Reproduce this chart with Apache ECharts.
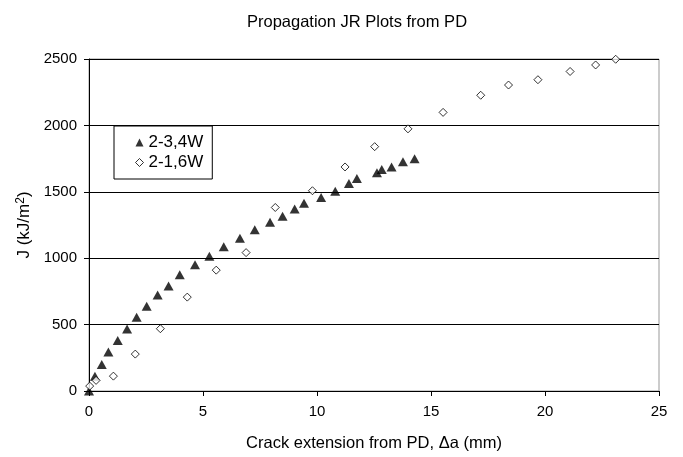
<!DOCTYPE html>
<html>
<head>
<meta charset="utf-8">
<script src="https://cdn.jsdelivr.net/npm/echarts@6/dist/echarts.min.js"></script>
<style>html,body{margin:0;padding:0;background:#fff;}#c{width:683px;height:457px;}</style>
</head>
<body>
<div id="c"></div>
<script>
const titleText = "Propagation JR Plots from PD";
const xAxisName = "Crack extension from PD, \u0394a (mm)";
const yAxisName = "{n|J (kJ/m}{s|2}{n|)}";
const seriesNames = ["2-3,4W", "2-1,6W"];

const triX = [0, 0.26, 0.56, 0.85, 1.26, 1.67, 2.09, 2.53, 3.01, 3.49, 3.98, 4.65, 5.28, 5.91, 6.62, 7.27, 7.94, 8.49, 9.02, 9.43, 10.18, 10.80, 11.40, 11.75, 12.63, 12.84, 13.27, 13.77, 14.28];
const triY = [0, 112, 199, 293, 380, 466, 556, 638, 722, 791, 876, 950, 1014, 1086, 1151, 1215, 1270, 1315, 1371, 1414, 1458, 1505, 1562, 1600, 1644, 1667, 1687, 1726, 1749];

const diaX = [0.03, 0.31, 1.07, 2.03, 3.13, 4.31, 5.58, 6.89, 8.17, 9.80, 11.23, 12.53, 13.99, 15.53, 17.18, 18.40, 19.69, 21.10, 22.22, 23.10];
const diaY = [37, 80, 112, 278, 469, 707, 910, 1042, 1382, 1508, 1687, 1840, 1974, 2098, 2227, 2304, 2344, 2406, 2455, 2498];

const FONT = "'Liberation Sans', Arial, sans-serif";
const chart = echarts.init(document.getElementById('c'), null, {renderer: 'canvas'});
chart.setOption({
  animation: false,
  backgroundColor: '#fff',
  title: {
    text: titleText, left: 352, textAlign: 'center', top: 9,
    textStyle: {fontFamily: FONT, fontSize: 16.5, fontWeight: 'normal', color: '#000'}
  },
  grid: {left: 89, top: 59, width: 570, height: 336, show: true, borderColor: '#999', borderWidth: 1, backgroundColor: 'transparent'},
  legend: {
    orient: 'vertical', left: 114, top: 126,
    backgroundColor: '#fff', borderColor: '#000', borderWidth: 1,
    padding: [8, 9, 8, 21], itemGap: 3, itemWidth: 8, itemHeight: 8,
    textStyle: {fontFamily: FONT, fontSize: 17, color: '#000'},
    data: [
      {name: seriesNames[0], icon: 'triangle', itemStyle: {color: '#000'}},
      {name: seriesNames[1], icon: 'diamond', itemStyle: {color: '#fff', borderColor: '#000', borderWidth: 1}}
    ]
  },
  xAxis: {
    type: 'value', min: 0, max: 25, interval: 5,
    name: xAxisName, nameLocation: 'middle', nameGap: 44,
    nameTextStyle: {fontFamily: FONT, fontSize: 16.5, color: '#000'},
    axisLine: {show: true, onZero: false, lineStyle: {color: '#000', width: 1}},
    axisTick: {show: true, inside: false, length: 5, lineStyle: {color: '#000'}},
    axisLabel: {fontFamily: FONT, fontSize: 15, color: '#000', margin: 13},
    splitLine: {show: false}
  },
  yAxis: {
    type: 'value', min: 0, max: 2500, interval: 500,
    name: yAxisName, nameLocation: 'middle', nameGap: 52, nameRotate: 90,
    nameTextStyle: {
      fontFamily: FONT, fontSize: 17, color: '#000',
      rich: {
        n: {fontFamily: FONT, fontSize: 17, color: '#000'},
        s: {fontFamily: FONT, fontSize: 12, color: '#000', verticalAlign: 'top', padding: [0, 0, 8, 0]}
      }
    },
    axisLine: {show: true, onZero: false, lineStyle: {color: '#000', width: 1}},
    axisTick: {show: true, inside: false, length: 5, lineStyle: {color: '#000'}},
    axisLabel: {fontFamily: FONT, fontSize: 15, color: '#000', margin: 12, formatter: v => String(v)},
    splitLine: {show: true, lineStyle: {color: '#000', width: 1}}
  },
  series: [
    {
      name: seriesNames[0], type: 'scatter', symbol: 'triangle', symbolSize: [10, 9],
      itemStyle: {color: '#000'},
      data: triX.map((x, i) => [x, triY[i]]), z: 3
    },
    {
      name: seriesNames[1], type: 'scatter', symbol: 'diamond', symbolSize: [8, 8],
      itemStyle: {color: '#fff', borderColor: '#000', borderWidth: 1},
      data: diaX.map((x, i) => [x, diaY[i]]), z: 4
    }
  ]
});
</script>
</body>
</html>
